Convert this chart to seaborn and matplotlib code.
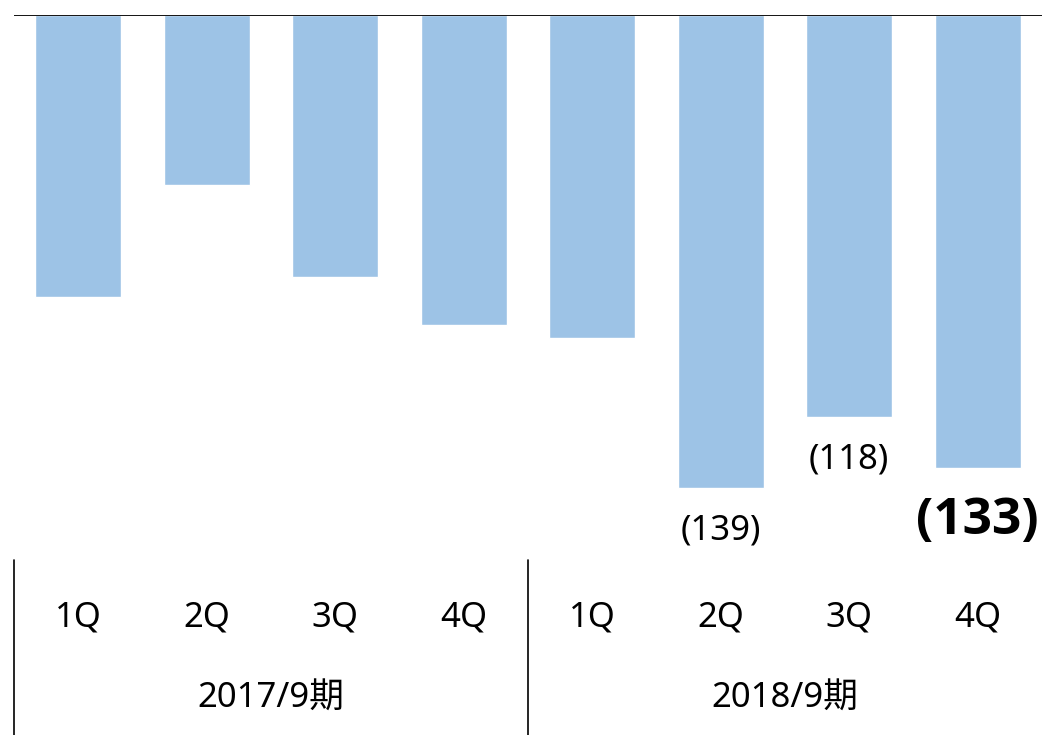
import numpy as np
import pandas as pd
import matplotlib
matplotlib.use("Agg")
import matplotlib.pyplot as plt
import matplotlib.transforms as mtransforms
import seaborn as sns

# data (shown as losses below zero)
quarters = ["1Q", "2Q", "3Q", "4Q", "1Q", "2Q", "3Q", "4Q"]
periods = ["2017/9期"] * 4 + ["2018/9期"] * 4
values = [-83, -50, -77, -91, -95, -139, -118, -133]
labelled = [5, 6, 7]  # bars that carry a value label

sns.set_theme(style="white")
plt.rcParams["font.family"] = ["Noto Sans", "Noto Sans CJK JP", "DejaVu Sans"]

df = pd.DataFrame({
    "key": [f"{p} {q}" for p, q in zip(periods, quarters)],
    "quarter": quarters,
    "period": periods,
    "value": values,
})

fig = plt.figure(figsize=(10.42, 7.35), dpi=100)
ax = fig.add_axes([14 / 1042, 1 - 555 / 735, 1028 / 1042, 540 / 735])

sns.barplot(data=df, x="key", y="value", color="#9DC3E6", saturation=1,
            width=0.67, ax=ax)
ax.set_xlim(-0.5, len(df) - 0.5)
ax.set_ylim(-158.7, 0)
ax.axhline(0, color="black", linewidth=1.3, zorder=5)
for s in ax.spines.values():
    s.set_visible(False)
ax.set_xticks([])
ax.set_yticks([])
ax.set_xlabel("")
ax.set_ylabel("")

# value labels under selected bars (px offsets converted to points)
for i in labelled:
    v = df["value"][i]
    last = i == len(df) - 1
    off = (66 if last else 52) * 72 / 100
    ax.annotate(f"({abs(v)})", xy=(i, v), xytext=(0, -off),
                textcoords="offset points", ha="center", va="baseline",
                fontsize=37 if last else 25,
                fontweight="bold" if last else "normal",
                family=["Open Sans", "DejaVu Sans"] if last else None,
                color="black")

# category table below the plot
trans = mtransforms.blended_transform_factory(ax.transData, fig.transFigure)
for i, q in enumerate(df["quarter"]):
    ax.text(i, 1 - 626 / 735, q, transform=trans, ha="center", va="baseline",
            fontsize=25, color="black")
for p in df["period"].unique():
    idx = np.where(df["period"] == p)[0]
    ax.text(idx.mean(), 1 - 708 / 735, p, transform=trans, ha="center",
            va="baseline", fontsize=25, color="black")
for xb in [-0.5, 3.5]:
    ax.plot([xb, xb], [1 - 560 / 735, 0], transform=trans, color="black",
            linewidth=1.2, clip_on=False)

fig.savefig("out.png", dpi=100)
